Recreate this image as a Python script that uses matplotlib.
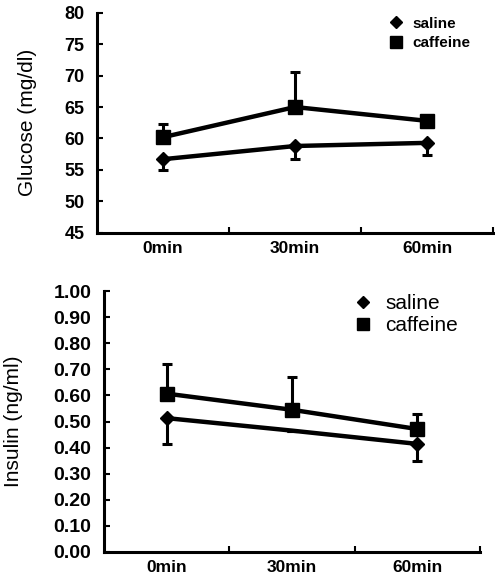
import matplotlib
matplotlib.use('Agg')
import matplotlib.pyplot as plt
from matplotlib.lines import Line2D

plt.rcParams['font.family'] = ['Liberation Sans', 'DejaVu Sans']

categories = ['0min', '30min', '60min']

# glucose (mg/dl)
glu_saline = [56.7, 58.8, 59.3]
glu_saline_err = [1.7, 2.1, 1.9]
glu_caffeine = [60.2, 65.0, 62.8]
glu_caffeine_err = [2.1, 5.6, 0.5]

# insulin (ng/ml)
ins_saline = [0.513, 0.465, 0.414]
ins_saline_err = [0.100, 0.0, 0.067]
ins_caffeine = [0.607, 0.545, 0.471]
ins_caffeine_err = [0.115, 0.127, 0.058]

glu_ticks = [45, 50, 55, 60, 65, 70, 75, 80]
ins_ticks = [0.0, 0.1, 0.2, 0.3, 0.4, 0.5, 0.6, 0.7, 0.8, 0.9, 1.0]

fig = plt.figure(figsize=(4.95, 5.79), dpi=100)
ax1 = fig.add_axes([0.196, 0.598, 0.800, 0.380])
ax2 = fig.add_axes([0.210, 0.047, 0.760, 0.450])


def draw_panel(ax, sal, sal_err, caf, caf_err, ticks, fmt, tick_fs, sal_markevery):
    x = list(range(len(categories)))
    zeros = [0] * len(x)
    ax.plot(x, sal, color='black', lw=3.2, marker='D', ms=7.5, markevery=sal_markevery, zorder=3)
    ax.errorbar(x, sal, yerr=[sal_err, zeros], fmt='none', ecolor='black', elinewidth=2.2, capsize=3.5, capthick=2.2)
    ax.plot(x, caf, color='black', lw=3.2, marker='s', ms=9.5, zorder=3)
    ax.errorbar(x, caf, yerr=[zeros, caf_err], fmt='none', ecolor='black', elinewidth=2.2, capsize=3.5, capthick=2.2)

    ax.set_xlim(-0.5, 2.5)
    ax.set_ylim(ticks[0], ticks[-1])
    ax.set_yticks(ticks)
    ax.set_yticklabels([fmt.format(t) for t in ticks], fontsize=tick_fs, fontweight='bold')
    ax.set_xticks(x)
    ax.set_xticklabels(categories, fontsize=12.5, fontweight='bold')
    ax.set_xticks([0.5, 1.5, 2.5], minor=True)
    ax.tick_params(axis='x', which='major', length=0, pad=6)
    ax.tick_params(axis='x', which='minor', direction='in', length=4, width=1.5)
    ax.tick_params(axis='y', direction='in', length=4, width=1.5, pad=9)
    for s in ['top', 'right']:
        ax.spines[s].set_visible(False)
    for s in ['left', 'bottom']:
        ax.spines[s].set_linewidth(2.2)


draw_panel(ax1, glu_saline, glu_saline_err, glu_caffeine, glu_caffeine_err,
           glu_ticks, '{:.0f}', 13, None)
ax1.set_ylabel('Glucose (mg/dl)', fontsize=15, labelpad=20)

draw_panel(ax2, ins_saline, ins_saline_err, ins_caffeine, ins_caffeine_err,
           ins_ticks, '{:.2f}', 14, [0, 2])
ax2.set_ylabel('Insulin (ng/ml)', fontsize=15, labelpad=22)

handles = [Line2D([], [], color='black', marker='D', ls='none', ms=6.5),
           Line2D([], [], color='black', marker='s', ls='none', ms=8.5)]
ax1.legend(handles, ['saline', 'caffeine'], loc='upper left', bbox_to_anchor=(0.70, 1.045),
           frameon=False, handlelength=1, handletextpad=0.6, labelspacing=0.35,
           prop={'weight': 'bold', 'size': 11})
ax2.legend(handles, ['saline', 'caffeine'], loc='upper left', bbox_to_anchor=(0.61, 1.06),
           frameon=False, handlelength=1, handletextpad=0.6, labelspacing=0.15,
           prop={'size': 15})

fig.savefig('out.png', dpi=100)
